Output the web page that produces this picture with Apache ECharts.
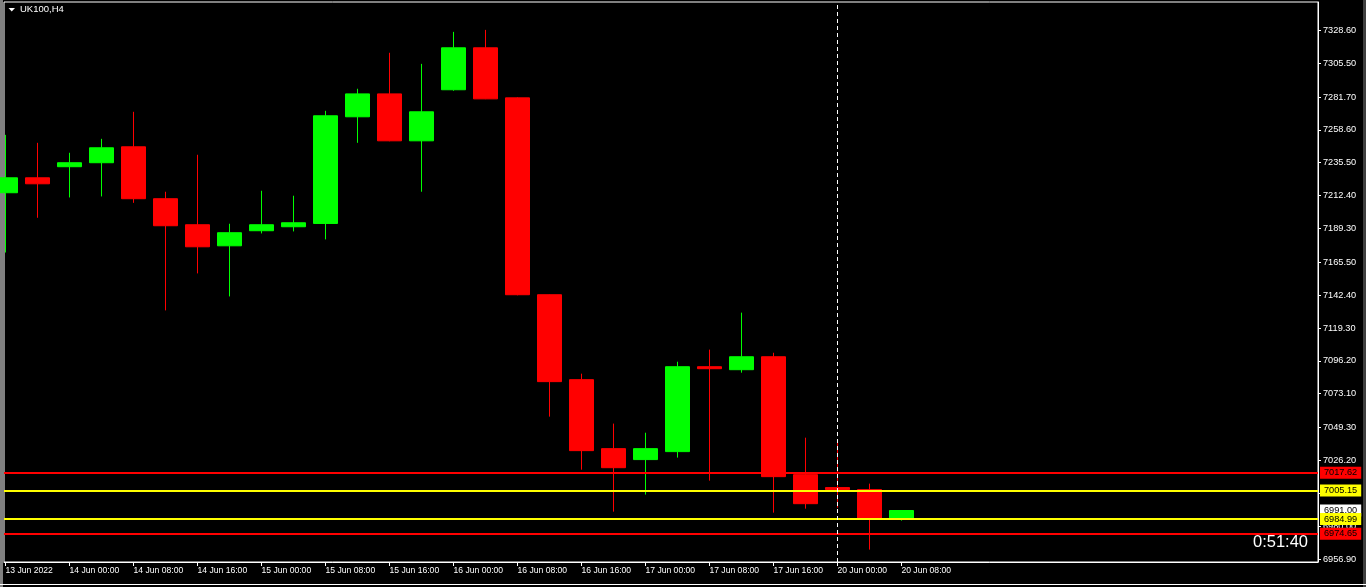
<!DOCTYPE html>
<html><head><meta charset="utf-8">
<script src="https://cdn.jsdelivr.net/npm/echarts@6/dist/echarts.min.js"></script>
<style>html,body{margin:0;padding:0;background:#000;overflow:hidden}#c{width:1366px;height:587px}</style>
</head><body><div id="c"></div>
<script>
// H4 bars, index 0 = 13 Jun 2022 16:00
const barIndex = [0,1,2,3,4,5,6,7,8,9,10,11,12,13,14,15,16,17,18,19,20,21,22,23,24,25,26,27,28];
const opens  = [7214.4,7224.9,7232.7,7235.5,7246.7,7210.2,7191.9,7177.1,7187.7,7190.5,7192.8,7267.8,7283.9,7250.9,7286.8,7316.3,7281.1,7142.7,7083.0,7034.5,7026.8,7032.4,7092.1,7090.0,7099.1,7016.2,7007.1,7005.7,6985.3];
const closes = [7224.9,7220.7,7235.5,7246.0,7210.2,7191.2,7176.4,7186.3,7191.9,7193.3,7268.5,7283.9,7250.9,7271.3,7316.3,7280.4,7142.7,7081.6,7033.1,7021.1,7034.5,7092.1,7090.7,7099.1,7014.8,6995.8,7005.7,6985.3,6991.0];
const lows   = [7172.4,7196.8,7211.1,7211.8,7207.3,7131.7,7157.7,7141.5,7185.8,7187.2,7181.6,7249.5,7250.6,7215.1,7286.1,7280.2,7142.3,7057.0,7019.7,6990.2,7002.2,7028.2,7012.0,7087.9,6989.5,6992.3,6993.0,6963.5,6983.9];
const highs  = [7255.1,7249.5,7242.5,7252.3,7271.3,7215.1,7241.1,7192.6,7215.8,7212.3,7272.0,7287.5,7312.8,7305.0,7327.5,7328.9,7281.5,7142.9,7087.2,7052.1,7045.7,7095.6,7104.1,7130.1,7101.9,7042.2,7040.8,7009.9,6991.0];

const xTicks = [0,2,4,6,8,10,12,14,16,18,20,22,24,26,28];
const xTickLabels = ['13 Jun 2022','14 Jun 00:00','14 Jun 08:00','14 Jun 16:00','15 Jun 00:00','15 Jun 08:00','15 Jun 16:00','16 Jun 00:00','16 Jun 08:00','16 Jun 16:00','17 Jun 00:00','17 Jun 08:00','17 Jun 16:00','20 Jun 00:00','20 Jun 08:00'];
const yTicks = [7328.60,7305.50,7281.70,7258.60,7235.50,7212.40,7189.30,7165.50,7142.40,7119.30,7096.20,7073.10,7049.30,7026.20,7003.10,6980.00,6956.90];

const levels = [7017.62, 7005.15, 6984.99, 6974.65];
const levelColors = ['#ff0000', '#ffff00', '#ffff00', '#ff0000'];
const currentPrice = 6991.00;
const separatorBar = 26;
const symbolTitle = 'UK100,H4';
const timerText = '0:51:40';

const FONT = '"Liberation Sans", Arial, sans-serif';

const candleData = barIndex.map((x, k) => [x, opens[k], closes[k], lows[k], highs[k]]);

function tagLabel(text, bg) {
  return {
    show: true, position: 'end', distance: 2,
    formatter: text,
    backgroundColor: bg, color: '#000', opacity: 1,
    fontFamily: FONT, fontSize: 9.2, padding: [2, 4, 1, 4]
  };
}

const levelLines = [];
levelLines.push({
  yAxis: currentPrice,
  lineStyle: { color: 'rgba(0,0,0,0)', width: 0 },
  label: tagLabel(currentPrice.toFixed(2), '#ffffff')
});
levels.forEach((v, k) => levelLines.push({
  yAxis: v,
  lineStyle: { color: levelColors[k], width: 2, type: 'solid' },
  label: tagLabel(v.toFixed(2), levelColors[k])
}));
levelLines.push({
  xAxis: separatorBar,
  lineStyle: { color: '#ffffff', width: 1, type: [4, 3] },
  label: { show: false }
});

const chart = echarts.init(document.getElementById('c'), null, { renderer: 'canvas' });
chart.setOption({
  backgroundColor: '#000000',
  animation: false,
  grid: {
    left: 4, right: 48, top: 2, bottom: 25,
    show: true, borderColor: '#ffffff', borderWidth: 1, backgroundColor: 'transparent',
    outerBoundsMode: 'none'
  },
  xAxis: {
    type: 'value', min: -0.047, max: 41.02,
    splitLine: { show: false },
    axisLine: { show: true, onZero: false, lineStyle: { color: '#ffffff', width: 1 } },
    axisTick: { show: true, customValues: xTicks, length: 4, lineStyle: { color: '#ffffff' } },
    axisLabel: {
      show: true, customValues: xTicks,
      formatter: v => xTickLabels[xTicks.indexOf(Math.round(v))],
      color: '#ffffff', fontFamily: FONT, fontSize: 8.6, align: 'left', margin: 4
    }
  },
  yAxis: {
    type: 'value', position: 'right', min: 6954.8, max: 7348.5, scale: true,
    splitLine: { show: false },
    axisLine: { show: true, onZero: false, lineStyle: { color: '#ffffff', width: 1 } },
    axisTick: { show: true, customValues: yTicks, length: 3, lineStyle: { color: '#ffffff' } },
    axisLabel: {
      show: true, customValues: yTicks, formatter: v => v.toFixed(2),
      color: '#ffffff', fontFamily: FONT, fontSize: 9.2, margin: 5
    }
  },
  series: [{
    type: 'candlestick',
    data: candleData,
    encode: { x: 0, y: [1, 2, 3, 4] },
    barWidth: 24,
    clip: true,
    itemStyle: {
      color: '#00ff00', color0: '#ff0000',
      borderColor: '#00ff00', borderColor0: '#ff0000', borderWidth: 1
    },
    markLine: {
      symbol: ['none', 'none'],
      silent: true,
      animation: false,
      data: levelLines
    }
  }],
  graphic: [
    { type: 'rect', left: 0, top: 0, shape: { width: 3, height: 587 }, style: { fill: '#808080' } },
    { type: 'rect', left: 1363, top: 0, shape: { width: 3, height: 587 }, style: { fill: '#404040' } },
    { type: 'rect', left: 0, top: 584, shape: { width: 1366, height: 1 }, style: { fill: '#ffffff' } },
    { type: 'polygon', shape: { points: [[8.5, 8], [15, 8], [11.75, 11.5]] }, style: { fill: '#ffffff' } },
    { type: 'text', left: 20, top: 4, style: { text: symbolTitle, fill: '#ffffff', font: '9.5px ' + FONT } },
    { type: 'text', right: 58, top: 534, style: { text: timerText, fill: '#ffffff', font: '16.5px ' + FONT } }
  ]
});
</script>
</body></html>
